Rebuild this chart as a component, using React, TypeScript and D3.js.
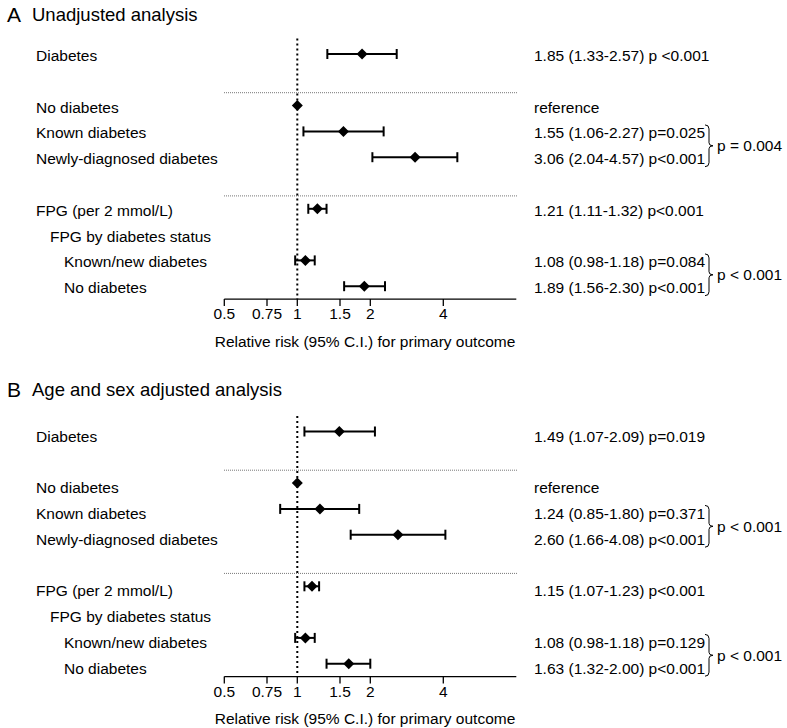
import React from "react";
import * as d3 from "d3";

const rowLabels = ["Diabetes", "No diabetes", "Known diabetes", "Newly-diagnosed diabetes", "FPG (per 2 mmol/L)", "FPG by diabetes status", "Known/new diabetes", "No diabetes"];
const rowIndent = [0, 0, 0, 0, 0, 1, 2, 2];
const rowSlot = [0, 2, 3, 4, 6, 7, 8, 9];

const rrA = [1.85, 1, 1.55, 3.06, 1.21, null, 1.08, 1.89];
const loA = [1.33, null, 1.06, 2.04, 1.11, null, 0.98, 1.56];
const hiA = [2.57, null, 2.27, 4.57, 1.32, null, 1.18, 2.30];
const txtA = ["1.85 (1.33-2.57) p <0.001", "reference", "1.55 (1.06-2.27) p=0.025", "3.06 (2.04-4.57) p<0.001", "1.21 (1.11-1.32) p<0.001", "", "1.08 (0.98-1.18) p=0.084", "1.89 (1.56-2.30) p<0.001"];
const bracesA = [{ rows: [2, 3], label: "p = 0.004" }, { rows: [6, 7], label: "p < 0.001" }];

const rrB = [1.49, 1, 1.24, 2.60, 1.15, null, 1.08, 1.63];
const loB = [1.07, null, 0.85, 1.66, 1.07, null, 0.98, 1.32];
const hiB = [2.09, null, 1.80, 4.08, 1.23, null, 1.18, 2.00];
const txtB = ["1.49 (1.07-2.09) p=0.019", "reference", "1.24 (0.85-1.80) p=0.371", "2.60 (1.66-4.08) p<0.001", "1.15 (1.07-1.23) p<0.001", "", "1.08 (0.98-1.18) p=0.129", "1.63 (1.32-2.00) p<0.001"];
const bracesB = [{ rows: [2, 3], label: "p < 0.001" }, { rows: [6, 7], label: "p < 0.001" }];

const tickValues = [0.5, 0.75, 1, 1.5, 2, 4];
const tickLabels = ["0.5", "0.75", "1", "1.5", "2", "4"];
const axisTitle = "Relative risk (95% C.I.) for primary outcome";

const FONT = "'Liberation Sans', Arial, Helvetica, sans-serif";

const x = d3.scaleLog().domain([0.5, 8]).range([224.3, 516.3]);

type PanelProps = {
  letter: string;
  title: string;
  top: number;
  titleY: number;
  labelDy: number;
  rr: (number | null)[];
  lo: (number | null)[];
  hi: (number | null)[];
  txt: string[];
  braces: { rows: number[]; label: string }[];
};

function Panel({ letter, title, top, titleY, labelDy, rr, lo, hi, txt, braces }: PanelProps) {
  const y = d3.scaleLinear().domain([0, 1]).range([top, top + 25.8]);
  const axisY = y(9.5);
  const refTop = y(-0.6);
  const capH = 5;
  const diamond = (cx: number, cy: number) =>
    `M${cx},${cy - 5.5}L${cx + 5.5},${cy}L${cx},${cy + 5.5}L${cx - 5.5},${cy}Z`;
  return (
    <g>
      <text x={7} y={titleY} fontSize={21} dominantBaseline="central" fontFamily={FONT}>{letter}</text>
      <text x={32} y={titleY} fontSize={18.5} dominantBaseline="central" fontFamily={FONT}>{title}</text>
      {[1.5, 5.5].map((s) => (
        <line key={s} x1={224} x2={517} y1={y(s)} y2={y(s)} stroke="#777" strokeWidth={1} strokeDasharray="1,1" />
      ))}
      <line x1={x(1)} x2={x(1)} y1={refTop} y2={axisY} stroke="#000" strokeWidth={2} strokeDasharray="2,3" />
      {rowLabels.map((l, i) => (
        <text key={"l" + i} x={36 + 14 * rowIndent[i]} y={y(rowSlot[i]) + labelDy} fontSize={15.5} dominantBaseline="central" fontFamily={FONT}>{l}</text>
      ))}
      {txt.map((t, i) => (
        <text key={"t" + i} x={534} y={y(rowSlot[i]) + labelDy} fontSize={15.5} dominantBaseline="central" fontFamily={FONT}>{t}</text>
      ))}
      {rr.map((v, i) => {
        if (v == null) return null;
        const cy = y(rowSlot[i]);
        const l = lo[i];
        const h = hi[i];
        return (
          <g key={"p" + i}>
            {l != null && h != null && (
              <g stroke="#000" strokeWidth={2}>
                <line x1={x(l)} x2={x(h)} y1={cy} y2={cy} />
                <line x1={x(l)} x2={x(l)} y1={cy - capH} y2={cy + capH} />
                <line x1={x(h)} x2={x(h)} y1={cy - capH} y2={cy + capH} />
              </g>
            )}
            <path d={diamond(x(v), cy)} fill="#000" />
          </g>
        );
      })}
      {braces.map((b, i) => {
        const y1 = y(rowSlot[b.rows[0]]) + labelDy - 8;
        const y2 = y(rowSlot[b.rows[1]]) + labelDy + 8;
        const ym = (y1 + y2) / 2;
        const x0 = 705;
        const d = `M${x0},${y1} Q${x0 + 4},${y1} ${x0 + 4},${y1 + 4} L${x0 + 4},${ym - 3} Q${x0 + 4},${ym} ${x0 + 8},${ym} Q${x0 + 4},${ym} ${x0 + 4},${ym + 3} L${x0 + 4},${y2 - 4} Q${x0 + 4},${y2} ${x0},${y2}`;
        return (
          <g key={"b" + i}>
            <path d={d} fill="none" stroke="#000" strokeWidth={1} />
            <text x={717} y={ym} fontSize={15.5} dominantBaseline="central" fontFamily={FONT}>{b.label}</text>
          </g>
        );
      })}
      <line x1={x.range()[0]} x2={x.range()[1]} y1={axisY} y2={axisY} stroke="#000" strokeWidth={1.3} />
      {tickValues.map((t, i) => (
        <g key={"k" + i}>
          <line x1={x(t)} x2={x(t)} y1={axisY} y2={axisY + 7} stroke="#000" strokeWidth={1.3} />
          <text x={x(t)} y={axisY + 14.5} fontSize={15.5} textAnchor="middle" dominantBaseline="central" fontFamily={FONT}>{tickLabels[i]}</text>
        </g>
      ))}
      <text x={365} y={axisY + 42} fontSize={15.5} textAnchor="middle" dominantBaseline="central" fontFamily={FONT}>{axisTitle}</text>
    </g>
  );
}

export default function App() {
  return (
    <svg width={787} height={728} style={{ position: "absolute", left: 0, top: 0, background: "#fff" }}>
      <rect width={787} height={728} fill="#fff" />
      <Panel letter="A" title="Unadjusted analysis" top={54} titleY={14} labelDy={1.5} rr={rrA} lo={loA} hi={hiA} txt={txtA} braces={bracesA} />
      <Panel letter="B" title="Age and sex adjusted analysis" top={431.5} titleY={389} labelDy={4.5} rr={rrB} lo={loB} hi={hiB} txt={txtB} braces={bracesB} />
    </svg>
  );
}
